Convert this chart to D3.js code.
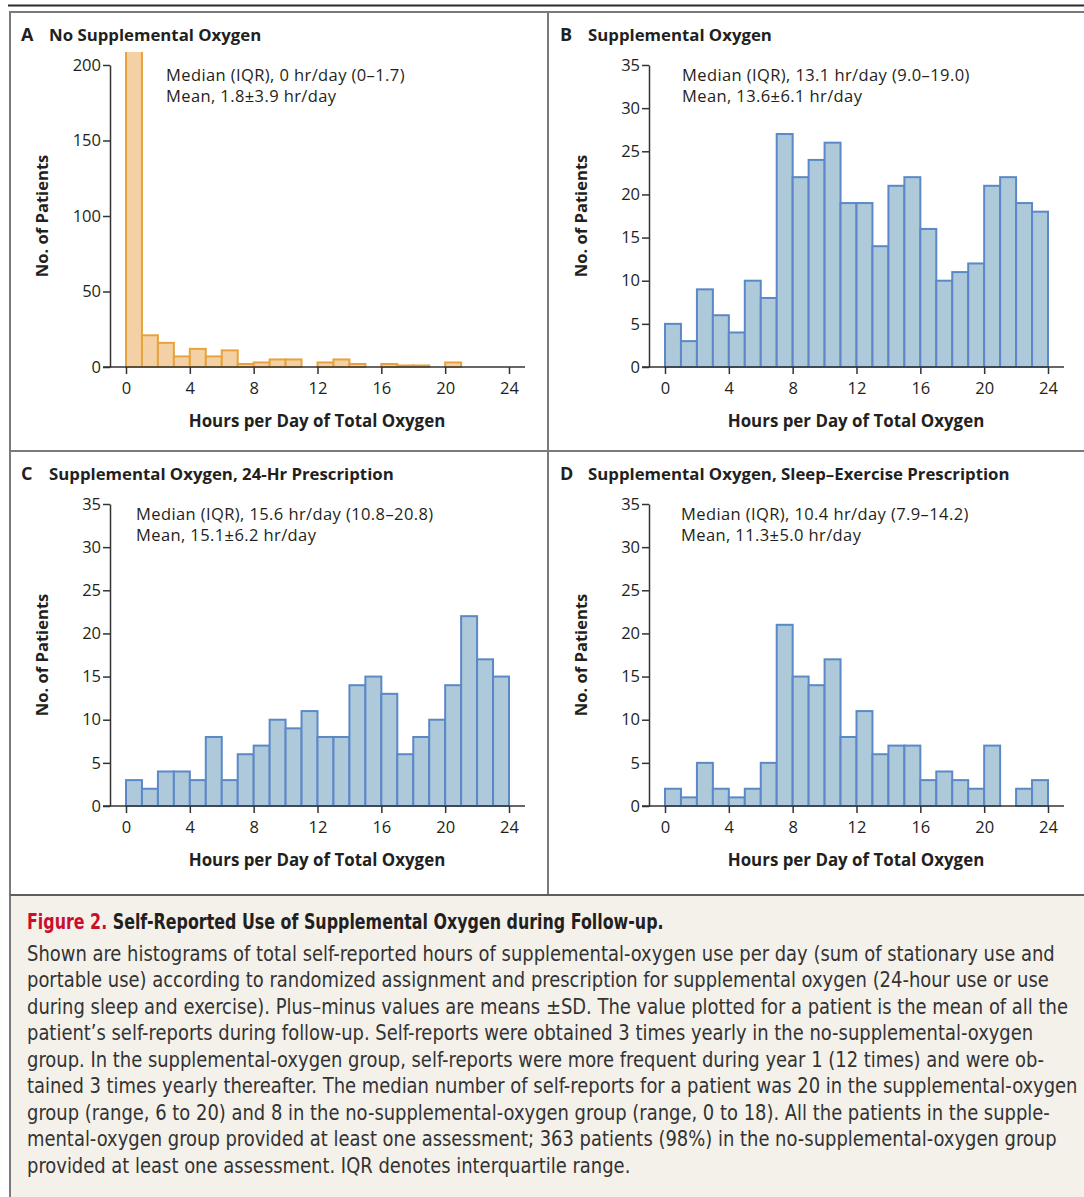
<!DOCTYPE html>
<html>
<head>
<meta charset="utf-8">
<script src="https://cdn.jsdelivr.net/npm/d3@7"></script>
<style>
  html, body { margin: 0; padding: 0; background: #fff; }
  svg { display: block; }
</style>
</head>
<body>
<svg id="fig" width="1084" height="1197"></svg>
<script>
// 1-hr bins, 0-24 hr/day
const binStarts = d3.range(0, 24);
const xTicks = [0, 4, 8, 12, 16, 20, 24];
const yTicksA = [0, 50, 100, 150, 200];
const yTicksO2 = [0, 5, 10, 15, 20, 25, 30, 35];

// No. of patients per bin (first bin of A runs off the top of the axis)
const countsA = [257, 21, 16, 7, 12, 7, 11, 2, 3, 5, 5, 0, 3, 5, 2, 0, 2, 1, 1, 0, 3, 0, 0, 0];
const countsB = [5, 3, 9, 6, 4, 10, 8, 27, 22, 24, 26, 19, 19, 14, 21, 22, 16, 10, 11, 12, 21, 22, 19, 18];
const countsC = [3, 2, 4, 4, 3, 8, 3, 6, 7, 10, 9, 11, 8, 8, 14, 15, 13, 6, 8, 10, 14, 22, 17, 15];
const countsD = [2, 1, 5, 2, 1, 2, 5, 21, 15, 14, 17, 8, 11, 6, 7, 7, 3, 4, 3, 2, 7, 0, 2, 3];

const panelLetters = ['A', 'B', 'C', 'D'];
const panelTitles = [
  'No Supplemental Oxygen',
  'Supplemental Oxygen',
  'Supplemental Oxygen, 24-Hr Prescription',
  'Supplemental Oxygen, Sleep\u2013Exercise Prescription'
];
const medianLines = [
  'Median (IQR), 0 hr/day (0\u20131.7)',
  'Median (IQR), 13.1 hr/day (9.0\u201319.0)',
  'Median (IQR), 15.6 hr/day (10.8\u201320.8)',
  'Median (IQR), 10.4 hr/day (7.9\u201314.2)'
];
const meanLines = [
  'Mean, 1.8\u00b13.9 hr/day',
  'Mean, 13.6\u00b16.1 hr/day',
  'Mean, 15.1\u00b16.2 hr/day',
  'Mean, 11.3\u00b15.0 hr/day'
];

const captionTitle = 'Self-Reported Use of Supplemental Oxygen during Follow-up.';
const captionLines = [
  'Shown are histograms of total self-reported hours of supplemental-oxygen use per day (sum of stationary use and',
  'portable use) according to randomized assignment and prescription for supplemental oxygen (24-hour use or use',
  'during sleep and exercise). Plus\u2013minus values are means \u00b1SD. The value plotted for a patient is the mean of all the',
  'patient\u2019s self-reports during follow-up. Self-reports were obtained 3 times yearly in the no-supplemental-oxygen',
  'group. In the supplemental-oxygen group, self-reports were more frequent during year 1 (12 times) and were ob-',
  'tained 3 times yearly thereafter. The median number of self-reports for a patient was 20 in the supplemental-oxygen',
  'group (range, 6 to 20) and 8 in the no-supplemental-oxygen group (range, 0 to 18). All the patients in the supple-',
  'mental-oxygen group provided at least one assessment; 363 patients (98%) in the no-supplemental-oxygen group',
  'provided at least one assessment. IQR denotes interquartile range.'
];

const FONT = '"Open Sans", "Noto Sans", sans-serif';
const CAP_FONT = '"Liberation Sans Narrow", "DejaVu Sans Condensed", "Liberation Sans", sans-serif';
const INK = '#231f20';
const AXIS = '#333';

const palettes = {
  orange: { fill: '#f3d1a5', stroke: '#e9a23b' },
  blue: { fill: '#aec9d9', stroke: '#5b88c7' }
};

const panels = [
  { counts: countsA, yMax: 200, yTicks: yTicksA, pal: 'orange', col: 0, row: 0, noteX: 166 },
  { counts: countsB, yMax: 35, yTicks: yTicksO2, pal: 'blue', col: 1, row: 0, noteX: 143 },
  { counts: countsC, yMax: 35, yTicks: yTicksO2, pal: 'blue', col: 0, row: 1, noteX: 136 },
  { counts: countsD, yMax: 35, yTicks: yTicksO2, pal: 'blue', col: 1, row: 1, noteX: 142 }
];

const svg = d3.select('#fig');

// frame
svg.append('line')
  .attr('x1', 8).attr('x2', 1084).attr('y1', 5.5).attr('y2', 5.5)
  .attr('stroke', '#2b2b2b').attr('stroke-width', 2);

svg.append('rect')
  .attr('x', 10).attr('y', 895).attr('width', 1080).attr('height', 310)
  .attr('fill', '#f4f1eb').attr('stroke', 'none');

svg.append('rect')
  .attr('x', 10).attr('y', 12).attr('width', 1080).attr('height', 883)
  .attr('fill', 'none').attr('stroke', '#7a7a7a').attr('stroke-width', 2);

svg.append('line')
  .attr('x1', 548).attr('x2', 548).attr('y1', 12).attr('y2', 895)
  .attr('stroke', '#7a7a7a').attr('stroke-width', 2);
svg.append('line')
  .attr('x1', 10).attr('x2', 1084).attr('y1', 451).attr('y2', 451)
  .attr('stroke', '#7a7a7a').attr('stroke-width', 2);
svg.append('line')
  .attr('x1', 10).attr('x2', 10).attr('y1', 895).attr('y2', 1197)
  .attr('stroke', '#7a7a7a').attr('stroke-width', 2);
svg.append('line')
  .attr('x1', 10).attr('x2', 1084).attr('y1', 895).attr('y2', 895)
  .attr('stroke', '#5e5e5e').attr('stroke-width', 2);

panels.forEach((p, i) => {
  const g = svg.append('g')
    .attr('transform', `translate(${p.col * 539},${p.row * 439})`);
  const pal = palettes[p.pal];

  const x = d3.scaleLinear().domain([0, 24]).range([126, 509]);
  const y = d3.scaleLinear().domain([0, p.yMax]).range([367, 65]);

  // clip so the tall first bar of A is cut off under the title
  const clipId = `clip-${i}`;
  g.append('clipPath').attr('id', clipId)
    .append('rect').attr('x', 100).attr('y', 52).attr('width', 440).attr('height', 330);

  g.append('g').attr('clip-path', `url(#${clipId})`)
    .selectAll('rect')
    .data(binStarts)
    .join('rect')
    .attr('x', d => x(d))
    .attr('width', d => x(d + 1) - x(d))
    .attr('y', d => y(p.counts[d]))
    .attr('height', d => y(0) - y(p.counts[d]))
    .attr('fill', pal.fill)
    .attr('stroke', pal.stroke)
    .attr('stroke-width', 2);

  // y axis
  const yAxis = g.append('g')
    .attr('transform', 'translate(110,0)')
    .call(d3.axisLeft(y).tickValues(p.yTicks).tickSize(7).tickSizeOuter(0).tickPadding(2));

  // x axis (baseline drawn separately so it runs from the y axis past 24)
  const xAxis = g.append('g')
    .attr('transform', 'translate(0,367)')
    .call(d3.axisBottom(x).tickValues(xTicks).tickSize(7).tickSizeOuter(0).tickPadding(8));
  xAxis.select('.domain').remove();
  g.append('line')
    .attr('x1', 103).attr('x2', 525).attr('y1', 367).attr('y2', 367)
    .attr('stroke', AXIS).attr('stroke-width', 1.5);

  [yAxis, xAxis].forEach(a => {
    a.selectAll('.domain').attr('stroke', AXIS).attr('stroke-width', 1.5);
    a.selectAll('.tick line').attr('stroke', AXIS).attr('stroke-width', 1.5);
    a.selectAll('.tick text')
      .attr('font-family', FONT).attr('font-size', 16.5).attr('fill', INK);
  });

  // panel title
  g.append('text')
    .attr('x', 21).attr('y', 41)
    .attr('font-family', FONT).attr('font-weight', 700).attr('font-size', 18).attr('fill', INK)
    .text(panelLetters[i]);
  g.append('text')
    .attr('x', 49).attr('y', 41)
    .attr('font-family', FONT).attr('font-weight', 700).attr('font-size', 16.8).attr('fill', INK)
    .text(panelTitles[i]);

  // stats note
  [medianLines[i], meanLines[i]].forEach((t, j) => {
    g.append('text')
      .attr('x', p.noteX).attr('y', 81 + j * 21)
      .attr('font-family', FONT).attr('font-size', 16.5).attr('letter-spacing', 0.4)
      .attr('fill', INK)
      .text(t);
  });

  // axis titles
  g.append('text')
    .attr('x', 317).attr('y', 427)
    .attr('text-anchor', 'middle')
    .attr('font-family', FONT).attr('font-weight', 700).attr('font-size', 16.9).attr('fill', INK)
    .text('Hours per Day of Total Oxygen');
  g.append('text')
    .attr('transform', 'translate(48,216) rotate(-90)')
    .attr('text-anchor', 'middle')
    .attr('font-family', FONT).attr('font-weight', 700).attr('font-size', 16.6).attr('fill', INK)
    .text('No. of Patients');
});

// caption
const capHead = svg.append('g');
const capTitle = capHead.append('text')
  .attr('x', 0).attr('y', 929)
  .attr('font-family', CAP_FONT).attr('font-weight', 700).attr('font-size', 21).attr('fill', INK);
capTitle.append('tspan').attr('fill', '#c8102e').text('Figure 2. ');
capTitle.append('tspan').text(captionTitle);
const kTitle = 637 / capTitle.node().getComputedTextLength();
capHead.attr('transform', `translate(27,0) scale(${kTitle},1)`);

const cap = svg.append('g');
cap.selectAll('text.body')
  .data(captionLines)
  .join('text')
  .attr('class', 'body')
  .attr('x', 0)
  .attr('y', (d, i) => 961 + i * 26.5)
  .attr('font-family', CAP_FONT).attr('font-size', 21).attr('fill', '#333')
  .text(d => d);

// squeeze caption so its first line spans the same width as the printed one
const firstLen = cap.select('text.body').node().getComputedTextLength();
const k = 1028 / firstLen;
cap.attr('transform', `translate(27,0) scale(${k},1)`);
</script>
</body>
</html>
